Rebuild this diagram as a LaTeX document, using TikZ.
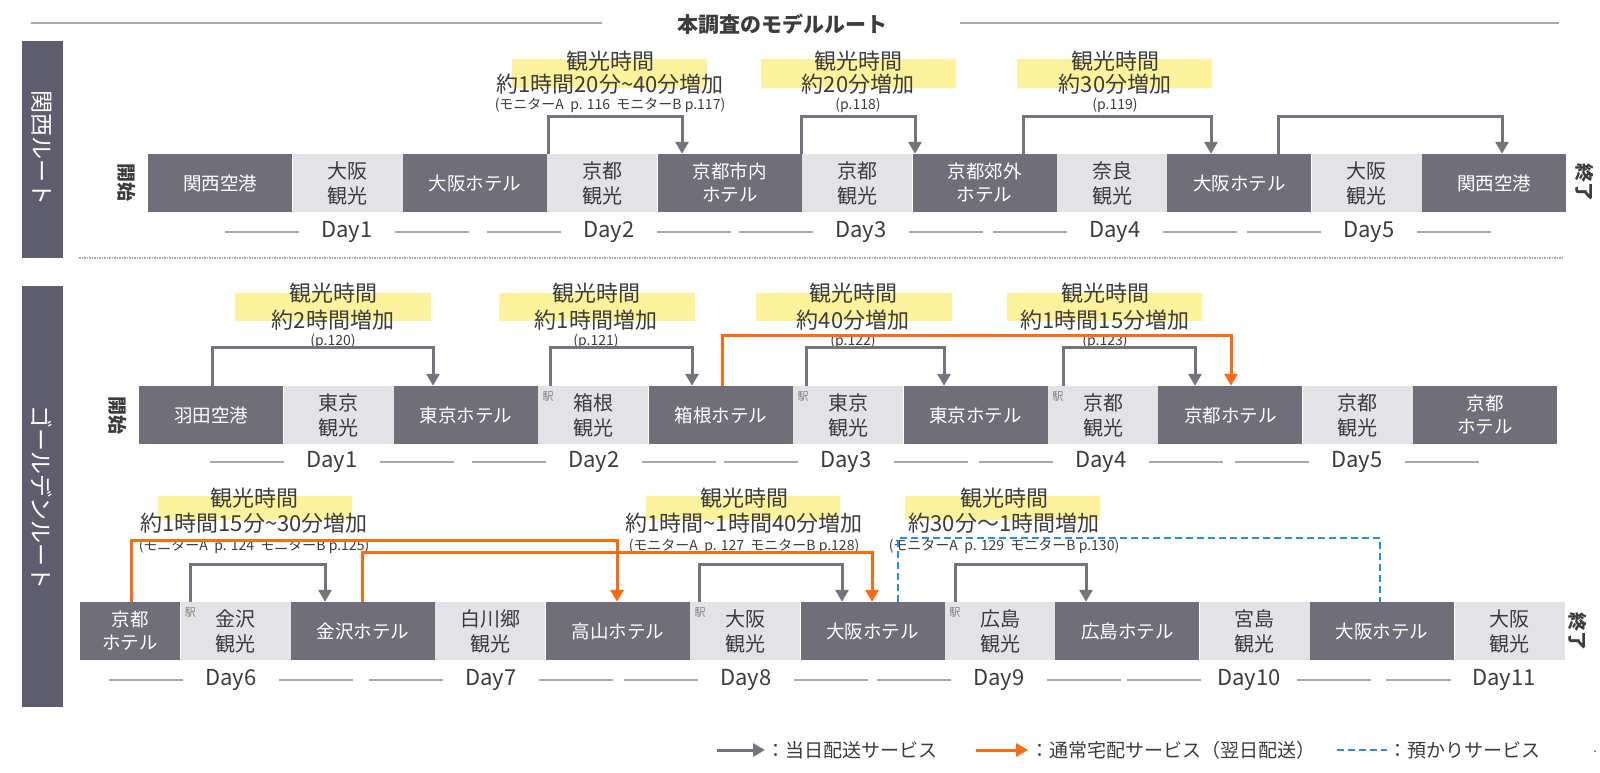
\documentclass[tikz,border=0pt]{standalone}
\usepackage{fontspec}
\setmainfont{Noto Sans CJK JP}
\usetikzlibrary{arrows.meta}

\definecolor{boxdark}{HTML}{6F6E79}
\definecolor{boxlight}{HTML}{E3E2E7}
\definecolor{barfill}{HTML}{5E5D6E}
\definecolor{arrgray}{HTML}{75747E}
\definecolor{arrorange}{HTML}{FF6A10}
\definecolor{arrblue}{HTML}{2490E3}
\definecolor{hilite}{HTML}{FCF29C}
\definecolor{inktext}{HTML}{3C3C3C}
\definecolor{rulegray}{HTML}{A9A9A9}

\begin{document}
\begin{tikzpicture}[
        x=1pt, y=-1pt,
        darkbox/.style={rectangle, fill=boxdark, text=white, minimum width=144, minimum height=58, inner sep=0pt, align=center, font=\fontsize{18.5}{23}\selectfont},
        lightbox/.style={rectangle, fill=boxlight, text=inktext, minimum width=110, minimum height=58, inner sep=0pt, align=center, font=\fontsize{20}{25}\selectfont},
        sidetext/.style={text=white, rotate=-90, inner sep=0pt, font=\fontsize{23}{23}\selectfont},
        endmark/.style={text=inktext, rotate=-90, inner sep=0pt, font=\bfseries\fontsize{19}{19}\selectfont},
        headline/.style={text=inktext, inner sep=0pt, font=\fontsize{22}{22}\selectfont},
        refnote/.style={text=inktext, inner sep=0pt, font=\fontsize{14}{14}\selectfont},
        daylabel/.style={text=inktext, inner sep=0pt, font=\fontsize{22}{22}\selectfont},
        dayrule/.style={draw=rulegray, line width=2pt},
        station/.style={text=gray, inner sep=0pt, font=\fontsize{11}{11}\selectfont},
        sameday/.style={draw=arrgray, line width=3pt, -{Triangle[width=13pt,length=12pt]}},
        nextday/.style={draw=arrorange, line width=3pt, -{Triangle[width=13pt,length=12pt]}},
        storage/.style={draw=arrblue, line width=2.6pt, dash pattern=on 7pt off 4pt},
        legtext/.style={text=inktext, inner sep=0pt, anchor=west, font=\fontsize{19}{19}\selectfont}
    ]
    \useasboundingbox (0,0) rectangle (1600,773);

    \node[text=inktext, inner sep=0pt, font=\bfseries\fontsize{21}{21}\selectfont] (title) at (782,24) {本調査のモデルルート};
    \draw[rulegray, line width=2pt] (31,23) -- (602,23);
    \draw[rulegray, line width=2pt] (960,23) -- (1559,23);

    \fill[barfill] (22,41) rectangle (63,258);
    \fill[barfill] (22,286) rectangle (63,707);
    \node[sidetext] (kansai) at (42,148) {関西ルート};
    \node[sidetext] (golden) at (42,497) {ゴールデンルート};
    \draw[rulegray, line width=1.5pt, dash pattern=on 1.5pt off 1pt] (79,258) -- (1563,258);

    \fill[hilite] (512,59) rectangle (707,88);
    \fill[hilite] (761,59) rectangle (956,88);
    \fill[hilite] (1017,59) rectangle (1212,88);
    \node[headline] (k45a) at (610,61) {観光時間};
    \node[headline] (k45b) at (610,84) {約1時間20分\textasciitilde40分増加};
    \node[refnote] (k45c) at (610,105) {(モニターA\ \ p. 116\ \ モニターB p.117)};
    \node[headline] (k67a) at (858,61) {観光時間};
    \node[headline] (k67b) at (858,84) {約20分増加};
    \node[refnote] (k67c) at (858,105) {(p.118)};
    \node[headline] (k89a) at (1115,61) {観光時間};
    \node[headline] (k89b) at (1115,84) {約30分増加};
    \node[refnote] (k89c) at (1115,105) {(p.119)};

    \node[endmark] (kstart) at (127,183) {開始};
    \node[darkbox, anchor=west] (k1) at (148,183) {関西空港};
    \node[lightbox, anchor=west] (k2) at (k1.east) {大阪\\観光};
    \node[darkbox, anchor=west] (k3) at (k2.east) {大阪ホテル};
    \node[lightbox, anchor=west] (k4) at (k3.east) {京都\\観光};
    \node[darkbox, anchor=west] (k5) at (k4.east) {京都市内\\ホテル};
    \node[lightbox, anchor=west] (k6) at (k5.east) {京都\\観光};
    \node[darkbox, anchor=west] (k7) at (k6.east) {京都郊外\\ホテル};
    \node[lightbox, anchor=west] (k8) at (k7.east) {奈良\\観光};
    \node[darkbox, anchor=west] (k9) at (k8.east) {大阪ホテル};
    \node[lightbox, anchor=west] (k10) at (k9.east) {大阪\\観光};
    \node[darkbox, anchor=west] (k11) at (k10.east) {関西空港};
    \node[endmark] (kend) at (1585,183) {終了};

    \draw[sameday] (548,0 |- k4.north) -- ++(0,-37) -| (682,0 |- k5.north);
    \draw[sameday] (801,0 |- k6.north) -- ++(0,-37) -| (915,0 |- k7.north);
    \draw[sameday] (1023,0 |- k7.north) -- ++(0,-37) -| (1211,0 |- k9.north);
    \draw[sameday] (1278,0 |- k9.north) -- ++(0,-37) -| (1502,0 |- k11.north);

    \node[daylabel] (kd1) at (347,232) {Day1};
    \node[daylabel] (kd2) at (609,232) {Day2};
    \node[daylabel] (kd3) at (861,232) {Day3};
    \node[daylabel] (kd4) at (1115,232) {Day4};
    \node[daylabel] (kd5) at (1369,232) {Day5};

    \fill[hilite] (235,293) rectangle (431,321);
    \fill[hilite] (499,293) rectangle (695,321);
    \fill[hilite] (756,293) rectangle (952,321);
    \fill[hilite] (1007,293) rectangle (1202,321);
    \node[headline] (g13a) at (333,293) {観光時間};
    \node[headline] (g13b) at (333,320) {約2時間増加};
    \node[refnote] (g13c) at (333,341) {(p.120)};
    \node[headline] (g45a) at (596,293) {観光時間};
    \node[headline] (g45b) at (596,320) {約1時間増加};
    \node[refnote] (g45c) at (596,341) {(p.121)};
    \node[headline] (g67a) at (853,293) {観光時間};
    \node[headline] (g67b) at (853,320) {約40分増加};
    \node[refnote] (g67c) at (853,341) {(p.122)};
    \node[headline] (g89a) at (1105,293) {観光時間};
    \node[headline] (g89b) at (1105,320) {約1時間15分増加};
    \node[refnote] (g89c) at (1105,341) {(p.123)};

    \node[endmark] (gstart) at (118,415) {開始};
    \node[darkbox, anchor=west] (g1) at (139,415) {羽田空港};
    \node[lightbox, anchor=west] (g2) at (g1.east) {東京\\観光};
    \node[darkbox, anchor=west] (g3) at (g2.east) {東京ホテル};
    \node[lightbox, anchor=west] (g4) at (g3.east) {箱根\\観光};
    \node[darkbox, anchor=west] (g5) at (g4.east) {箱根ホテル};
    \node[lightbox, anchor=west] (g6) at (g5.east) {東京\\観光};
    \node[darkbox, anchor=west] (g7) at (g6.east) {東京ホテル};
    \node[lightbox, anchor=west] (g8) at (g7.east) {京都\\観光};
    \node[darkbox, anchor=west] (g9) at (g8.east) {京都ホテル};
    \node[lightbox, anchor=west] (g10) at (g9.east) {京都\\観光};
    \node[darkbox, anchor=west] (g11) at (g10.east) {京都\\ホテル};
    \node[station] (g4s) at ([shift={(10,11)}]g4.north west) {駅};
    \node[station] (g6s) at ([shift={(10,11)}]g6.north west) {駅};
    \node[station] (g8s) at ([shift={(10,11)}]g8.north west) {駅};

    \draw[sameday] (212,0 |- g1.north) -- ++(0,-38) -| (433,0 |- g3.north);
    \draw[sameday] (550,0 |- g4.north) -- ++(0,-38) -| (692,0 |- g5.north);
    \draw[nextday] (722,0 |- g5.north) -- ++(0,-50) -| (1231,0 |- g9.north);
    \draw[sameday] (806,0 |- g6.north) -- ++(0,-38) -| (944,0 |- g7.north);
    \draw[sameday] (1063,0 |- g8.north) -- ++(0,-38) -| (1195,0 |- g9.north);

    \node[daylabel] (gd1) at (332,462) {Day1};
    \node[daylabel] (gd2) at (594,462) {Day2};
    \node[daylabel] (gd3) at (846,462) {Day3};
    \node[daylabel] (gd4) at (1101,462) {Day4};
    \node[daylabel] (gd5) at (1357,462) {Day5};

    \fill[hilite] (158,496) rectangle (352,520);
    \fill[hilite] (646,496) rectangle (840,520);
    \fill[hilite] (905,496) rectangle (1100,520);
    \node[headline] (h13a) at (254,498) {観光時間};
    \node[headline] (h13b) at (254,523) {約1時間15分\textasciitilde30分増加};
    \node[refnote] (h13c) at (254,546) {(モニターA\ \ p. 124\ \ モニターB p.125)};
    \node[headline] (h67a) at (744,498) {観光時間};
    \node[headline] (h67b) at (744,523) {約1時間\textasciitilde1時間40分増加};
    \node[refnote] (h67c) at (744,546) {(モニターA\ \ p. 127\ \ モニターB p.128)};
    \node[headline] (h89a) at (1004,498) {観光時間};
    \node[headline] (h89b) at (1004,523) {約30分～1時間増加};
    \node[refnote] (h89c) at (1004,546) {(モニターA\ \ p. 129\ \ モニターB p.130)};

    \node[darkbox, anchor=west, minimum width=100] (h1) at (80,631) {京都\\ホテル};
    \node[lightbox, anchor=west] (h2) at (h1.east) {金沢\\観光};
    \node[darkbox, anchor=west] (h3) at (h2.east) {金沢ホテル};
    \node[lightbox, anchor=west] (h4) at (h3.east) {白川郷\\観光};
    \node[darkbox, anchor=west] (h5) at (h4.east) {高山ホテル};
    \node[lightbox, anchor=west] (h6) at (h5.east) {大阪\\観光};
    \node[darkbox, anchor=west] (h7) at (h6.east) {大阪ホテル};
    \node[lightbox, anchor=west] (h8) at (h7.east) {広島\\観光};
    \node[darkbox, anchor=west] (h9) at (h8.east) {広島ホテル};
    \node[lightbox, anchor=west] (h10) at (h9.east) {宮島\\観光};
    \node[darkbox, anchor=west] (h11) at (h10.east) {大阪ホテル};
    \node[lightbox, anchor=west] (h12) at (h11.east) {大阪\\観光};
    \node[endmark] (hend) at (1578,631) {終了};
    \node[station] (h2s) at ([shift={(10,11)}]h2.north west) {駅};
    \node[station] (h6s) at ([shift={(10,11)}]h6.north west) {駅};
    \node[station] (h8s) at ([shift={(10,11)}]h8.north west) {駅};

    \draw[nextday] (131,0 |- h1.north) -- ++(0,-61) -| (617,0 |- h5.north);
    \draw[nextday] (362,0 |- h3.north) -- ++(0,-49) -| (872,0 |- h7.north);
    \draw[sameday] (190,0 |- h2.north) -- ++(0,-37) -| (325,0 |- h3.north);
    \draw[sameday] (699,0 |- h6.north) -- ++(0,-37) -| (842,0 |- h7.north);
    \draw[storage] (898,0 |- h7.north) -- ++(0,-64) -| (1380,0 |- h11.north);
    \draw[sameday] (955,0 |- h8.north) -- ++(0,-37) -| (1086,0 |- h9.north);

    \node[daylabel] (hd6) at (231,680) {Day6};
    \node[daylabel] (hd7) at (491,680) {Day7};
    \node[daylabel] (hd8) at (746,680) {Day8};
    \node[daylabel] (hd9) at (999,680) {Day9};
    \node[daylabel] (hd10) at (1249,680) {Day10};
    \node[daylabel] (hd11) at (1504,680) {Day11};

    \foreach \d in {kd1,kd2,kd3,kd4,kd5,gd1,gd2,gd3,gd4,gd5,hd6,hd7,hd8,hd9,hd10}
        \draw[dayrule] (\d.center) ++(-48,0) -- ++(-74,0) (\d.center) ++(48,0) -- ++(74,0);
    \draw[dayrule] (hd11.center) ++(-53,0) -- ++(-65,0);

    \node[legtext] (leg1) at (766,750) {：当日配送サービス};
    \draw[sameday] ([xshift=-49pt]leg1.west) -- ([xshift=-1pt]leg1.west);
    \node[legtext] (leg2) at (1030,750) {：通常宅配サービス（翌日配送）};
    \draw[nextday] ([xshift=-54pt]leg2.west) -- ([xshift=-2pt]leg2.west);
    \node[legtext] (leg3) at (1388,750) {：預かりサービス};
    \draw[storage] ([xshift=-51pt]leg3.west) -- ([xshift=-1pt]leg3.west);
    \node[text=inktext, inner sep=0pt, font=\fontsize{12}{12}\selectfont] (dot) at (1595,752) {.};
\end{tikzpicture}
\end{document}
